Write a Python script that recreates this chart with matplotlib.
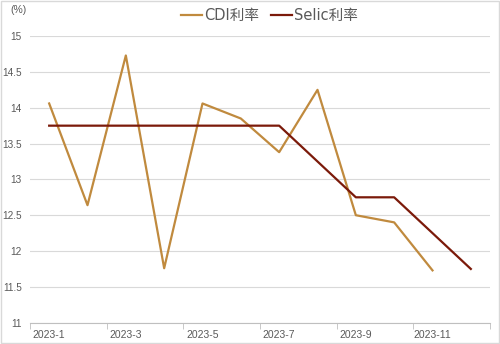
import numpy as np
import matplotlib.pyplot as plt
from matplotlib.patches import Rectangle

plt.rcParams['font.family'] = ['Liberation Sans', 'Noto Sans CJK SC', 'DejaVu Sans']

months = ['2023-%d' % m for m in range(1, 13)]
cdi = [14.06, 12.64, 14.73, 11.76, 14.06, 13.85, 13.38, 14.25, 12.50, 12.40, 11.73, np.nan]
selic = [13.75, 13.75, 13.75, 13.75, 13.75, 13.75, 13.75, 13.25, 12.75, 12.75, 12.25, 11.75]
yticks = [11, 11.5, 12, 12.5, 13, 13.5, 14, 14.5, 15]

fig = plt.figure(figsize=(5, 3.44), dpi=100)
ax = fig.add_axes([0.06, 0.062, 0.92, 0.833])

x = np.arange(len(months))
ax.plot(x, cdi, color='#C08A3E', lw=1.6, label='CDI利率')
ax.plot(x, selic, color='#7B1A0A', lw=1.6, label='Selic利率')

ax.set_xlim(-0.5, 11.5)
ax.set_ylim(11, 15)
ax.set_yticks(yticks)
ax.set_yticklabels(['%g' % v for v in yticks])
ax.grid(axis='y', color='#D9D9D9', lw=0.8)
ax.set_axisbelow(True)

# category labels on every second month, tick marks at boundaries
ax.set_xticks(x[::2])
ax.set_xticklabels(months[::2])
ax.set_xticks(np.arange(-0.5, 12, 2), minor=True)
ax.tick_params(axis='x', which='major', length=0, pad=5, labelsize=7.5, colors='#595959')
ax.tick_params(axis='x', which='minor', length=4, color='#BFBFBF')
ax.tick_params(axis='y', length=0, pad=6, labelsize=7.2, colors='#595959')

for s in ['top', 'right', 'left']:
    ax.spines[s].set_visible(False)
ax.spines['bottom'].set_color('#BFBFBF')

fig.text(0.02, 0.97, '(%)', fontsize=7.5, color='#595959', va='center')
ax.legend(loc='lower center', bbox_to_anchor=(0.52, 1.02), ncol=2, frameon=False,
          prop={'family': ['DejaVu Sans', 'Noto Sans CJK SC'], 'size': 10.5},
          handlelength=1.5, handletextpad=0.1, columnspacing=0.8,
          labelcolor='#595959', borderaxespad=0.1)

fig.patches.append(Rectangle((0.002, 0.003), 0.996, 0.994, transform=fig.transFigure,
                             fill=False, edgecolor='#D9D9D9', lw=1))

fig.savefig('out.png', dpi=100)
